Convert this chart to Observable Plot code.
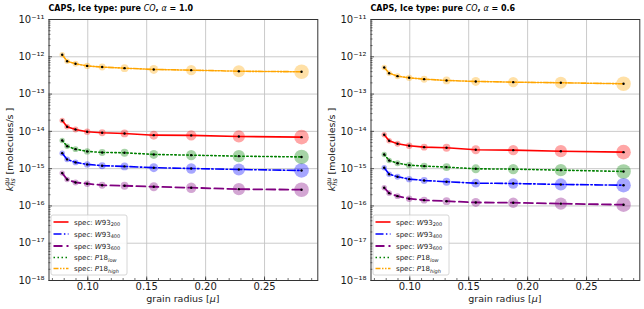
<!DOCTYPE html>
<html>
<head>
<meta charset="utf-8">
<script src="https://cdn.jsdelivr.net/npm/d3@7"></script>
<script src="https://cdn.jsdelivr.net/npm/@observablehq/plot@0.6"></script>
<style>
  html, body { margin: 0; padding: 0; background: white; }
  #wrap { display: flex; width: 644px; height: 309px; }
  #wrap > div { width: 322px; height: 309px; }
  svg { font-family: "DejaVu Sans", sans-serif; }
</style>
</head>
<body>
<div id="wrap"><div id="p1"></div><div id="p2"></div></div>
<script>
// ---- data ----
const grainRadius = [0.0783, 0.0825, 0.0896, 0.0995, 0.1122, 0.1312, 0.1560, 0.1878, 0.2282, 0.2814];
const seriesKeys = ["W93_200", "W93_400", "W93_600", "P18_low", "P18_high"];

// alpha = 1.0
const a10_W93_200  = [1.96e-14, 1.33e-14, 1.12e-14, 9.8e-15, 9.2e-15, 8.8e-15, 7.9e-15, 7.8e-15, 7.3e-15, 7.0e-15];
const a10_W93_400  = [2.6e-15, 1.77e-15, 1.47e-15, 1.30e-15, 1.20e-15, 1.15e-15, 1.06e-15, 1.01e-15, 9.5e-16, 8.95e-16];
const a10_W93_600  = [7.6e-16, 5.1e-16, 4.26e-16, 3.94e-16, 3.6e-16, 3.48e-16, 3.27e-16, 3.08e-16, 2.82e-16, 2.72e-16];
const a10_P18_low  = [5.7e-15, 4.0e-15, 3.33e-15, 2.9e-15, 2.72e-15, 2.67e-15, 2.4e-15, 2.3e-15, 2.16e-15, 2.06e-15];
const a10_P18_high = [1.13e-12, 7.6e-13, 6.5e-13, 5.7e-13, 5.3e-13, 4.95e-13, 4.57e-13, 4.38e-13, 4.1e-13, 3.96e-13];

// alpha = 0.6
const a06_W93_200  = [8.1e-15, 5.6e-15, 4.65e-15, 4.1e-15, 3.77e-15, 3.63e-15, 3.21e-15, 3.13e-15, 2.94e-15, 2.77e-15];
const a06_W93_400  = [1.06e-15, 7.1e-16, 6.07e-16, 5.23e-16, 4.83e-16, 4.45e-16, 4.08e-16, 4.0e-16, 3.77e-16, 3.6e-16];
const a06_W93_600  = [3.07e-16, 2.2e-16, 1.83e-16, 1.56e-16, 1.43e-16, 1.34e-16, 1.24e-16, 1.22e-16, 1.15e-16, 1.08e-16];
const a06_P18_low  = [2.4e-15, 1.66e-15, 1.40e-15, 1.24e-15, 1.17e-15, 1.10e-15, 9.9e-16, 9.7e-16, 9.1e-16, 8.4e-16];
const a06_P18_high = [5.16e-13, 3.63e-13, 3.02e-13, 2.73e-13, 2.51e-13, 2.32e-13, 2.18e-13, 2.09e-13, 2.01e-13, 1.89e-13];

const yTicks = [1e-18, 1e-17, 1e-16, 1e-15, 1e-14, 1e-13, 1e-12, 1e-11];
const yTickLabels = ["10⁻¹⁸", "10⁻¹⁷", "10⁻¹⁶", "10⁻¹⁵", "10⁻¹⁴", "10⁻¹³", "10⁻¹²", "10⁻¹¹"];
const xTicks = [0.10, 0.15, 0.20, 0.25];
const xTickLabels = ["0.10", "0.15", "0.20", "0.25"];

// ---- styles ----
const colors = {W93_200: "#ff0000", W93_400: "#0000ff", W93_600: "#800080", P18_low: "#008000", P18_high: "#ffa500"};
const dashes = {W93_200: null, W93_400: "8,2.4,1.5,2.4", W93_600: "9,4", P18_low: "1.5,2.5", P18_high: "5,1.5,1.5,1.5,1.5,1.5"};
const widths = {W93_200: 1.6, W93_400: 1.6, W93_600: 1.8, P18_low: 1.6, P18_high: 1.6};
const legendParts = {
  W93_200: ["W93", "200", false], W93_400: ["W93", "400", false], W93_600: ["W93", "600", false],
  P18_low: ["P18", "low", true], P18_high: ["P18", "high", true]
};

const W = 322, H = 309, mL = 48.5, mR = 4.7, mT = 19, mB = 29;
const pw = W - mL - mR, ph = H - mT - mB;
const yMinor = [];
for (let e = -18; e < -11; e++) for (let m = 2; m <= 9; m++) yMinor.push(m * Math.pow(10, e));
const xMinor = d3.range(7, 30).map(i => i / 100);

function txt(sel, size, anchor) {
  return sel.append("text").style("font-size", size + "px").style("text-anchor", anchor || "start")
    .style("font-family", "DejaVu Sans").style("fill", "#1a1a1a");
}

function panel(el, alphaText, arrays) {
  const rows = [];
  seriesKeys.forEach((k, i) => arrays[i].forEach((v, j) => rows.push({series: k, r: grainRadius[j], v, color: colors[k]})));
  const tickStroke = "#333";
  const plot = Plot.plot({
    width: W, height: H,
    marginTop: mT, marginBottom: mB, marginLeft: mL, marginRight: mR,
    style: {fontFamily: "DejaVu Sans", fontSize: "10px", background: "white", color: "#1a1a1a"},
    x: {domain: [0.0671, 0.2952]},
    y: {type: "log", domain: [1e-18, 1e-11]},
    r: {type: "linear", domain: [grainRadius[0], grainRadius[grainRadius.length - 1]], range: [2.7, 7.3]},
    color: {type: "identity"},
    marks: [
      Plot.gridX(xTicks, {stroke: "#c4c4c4", strokeOpacity: 1, strokeWidth: 0.9}),
      Plot.gridY(yTicks, {stroke: "#c4c4c4", strokeOpacity: 1, strokeWidth: 0.9}),
      ...seriesKeys.map(k => Plot.line(rows.filter(d => d.series === k), {
        x: "r", y: "v", stroke: colors[k], strokeWidth: widths[k], strokeDasharray: dashes[k]
      })),
      Plot.dot(rows, {x: "r", y: "v", r: "r", fill: "color", fillOpacity: 0.35, stroke: null}),
      Plot.dot(rows, {x: "r", y: "v", r: 1.2, fill: "black"}),
      Plot.tickY(yMinor, {y: d => d, insetRight: pw - 2, stroke: tickStroke, strokeWidth: 0.7}),
      Plot.tickY(yTicks, {y: d => d, insetRight: pw - 3.5, stroke: tickStroke, strokeWidth: 0.8}),
      Plot.tickX(xMinor, {x: d => d, insetTop: ph - 2, stroke: tickStroke, strokeWidth: 0.7}),
      Plot.tickX(xTicks, {x: d => d, insetTop: ph - 3.5, stroke: tickStroke, strokeWidth: 0.8}),
      Plot.axisY(yTicks, {tickSize: 0, tickPadding: 4.5, tickFormat: d => yTickLabels[yTicks.indexOf(d)], label: null, fontSize: 10}),
      Plot.axisX(xTicks, {tickSize: 0, tickPadding: 2.5, tickFormat: d => xTickLabels[xTicks.indexOf(d)], label: null, fontSize: 10}),
      Plot.frame({stroke: "#333", strokeWidth: 1})
    ]
  });
  el.appendChild(plot);
  const svg = d3.select(plot);

  // title
  const t = txt(svg, 8).attr("x", mL).attr("y", 10.5).style("font-weight", "bold").style("fill", "#000");
  t.append("tspan").text("CAPS, Ice type: pure ");
  t.append("tspan").style("font-style", "italic").style("font-weight", "normal").text("CO");
  t.append("tspan").text(", ");
  t.append("tspan").style("font-style", "italic").style("font-weight", "normal").text("α");
  t.append("tspan").text(" = " + alphaText);

  // x label
  const xl = txt(svg, 9.5, "middle").attr("x", mL + pw / 2).attr("y", 301.5);
  xl.append("tspan").text("grain radius [");
  xl.append("tspan").style("font-style", "italic").text("μ");
  xl.append("tspan").text("]");

  // y label
  const yl = txt(svg, 9.5, "middle").attr("transform", `translate(12.5,${mT + ph / 2}) rotate(-90)`);
  yl.append("tspan").style("font-style", "italic").text("k");
  yl.append("tspan").style("font-style", "italic").style("font-size", "6.5px").attr("dy", 2.5).text("hs");
  yl.append("tspan").style("font-style", "italic").style("font-size", "6.5px").attr("dx", -7.5).attr("dy", -6.5).text("qu");
  yl.append("tspan").attr("dy", 4).text(" [molecules/s ]");

  // legend
  const lg = svg.append("g");
  lg.append("rect").attr("x", 51).attr("y", 215).attr("width", 76).attr("height", 60).attr("rx", 2)
    .attr("fill", "white").attr("fill-opacity", 0.85).attr("stroke", "#cccccc").attr("stroke-width", 0.8);
  const rowY = [222, 234, 246, 257.5, 268.5];
  seriesKeys.forEach((k, i) => {
    const y = rowY[i];
    lg.append("line").attr("x1", 53.5).attr("x2", 68.5).attr("y1", y).attr("y2", y)
      .attr("stroke", colors[k]).attr("stroke-width", widths[k]).attr("stroke-dasharray", dashes[k]);
    const [base, sub, subItalic] = legendParts[k];
    const tx = txt(lg, 7).attr("x", 74).attr("y", y + 2.5);
    tx.append("tspan").text("spec: ");
    tx.append("tspan").style("font-style", "italic").text(base[0]);
    tx.append("tspan").text(base.slice(1));
    tx.append("tspan").style("font-size", "5px").attr("dy", 1.5).style("font-style", subItalic ? "italic" : "normal").text(sub);
  });
}

panel(document.getElementById("p1"), "1.0", [a10_W93_200, a10_W93_400, a10_W93_600, a10_P18_low, a10_P18_high]);
panel(document.getElementById("p2"), "0.6", [a06_W93_200, a06_W93_400, a06_W93_600, a06_P18_low, a06_P18_high]);
</script>
</body>
</html>
